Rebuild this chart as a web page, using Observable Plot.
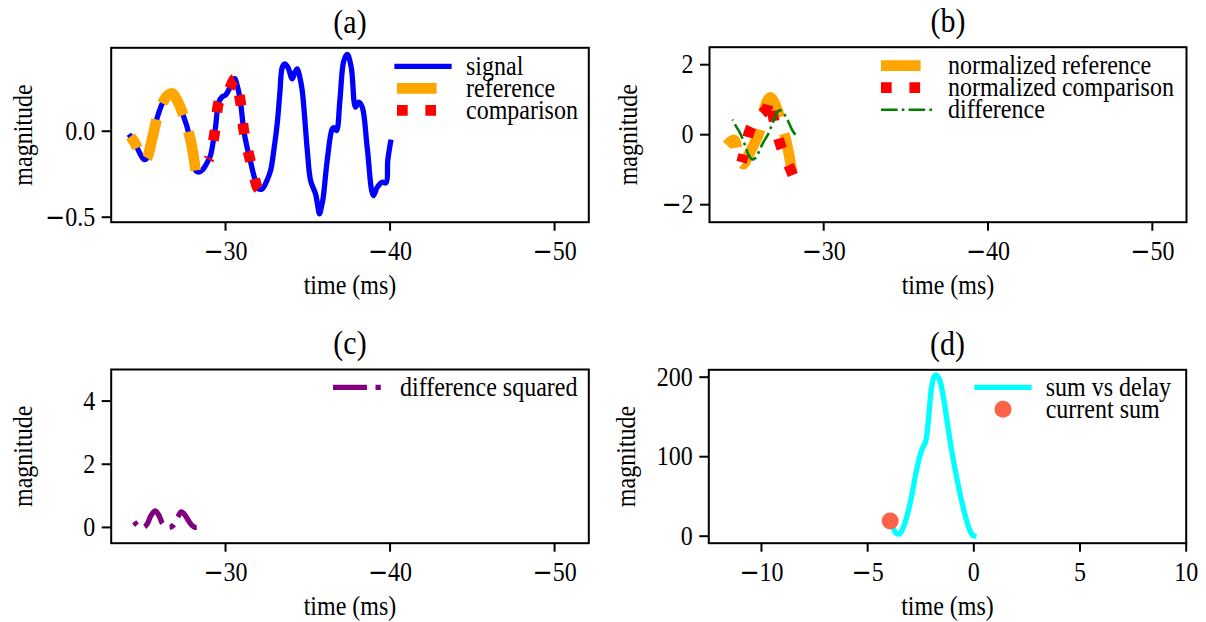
<!DOCTYPE html>
<html>
<head>
<meta charset="utf-8">
<script src="https://cdn.jsdelivr.net/npm/d3@7"></script>
<script src="https://cdn.jsdelivr.net/npm/@observablehq/plot@0.6"></script>
<style>
  html, body { margin: 0; padding: 0; background: #fff; }
  #fig { position: relative; width: 1206px; height: 622px; overflow: hidden; }
  #fig > svg { position: absolute; }
</style>
</head>
<body>
<div id="fig"></div>
<script>
// (a) recorded signal, time in ms
const signalTime = [-24.22, -24.5, -24.8, -25.05, -25.2, -25.5, -25.85, -26.2, -26.5, -26.76, -27.0, -27.37, -27.87, -28.18,
  -28.38, -28.6, -28.78, -28.97, -29.09, -29.25, -29.39, -29.59, -29.8, -30.0, -30.3, -30.55, -30.75, -30.91, -31.11, -31.3,
  -31.48, -31.7, -31.93, -32.0, -32.23, -32.5, -32.74, -32.95, -33.14, -33.3, -33.45, -33.6, -33.8, -34.05, -34.2, -34.36,
  -34.5, -34.66, -34.97, -35.17, -35.47, -35.6, -35.71, -35.85, -35.94, -36.18, -36.49, -36.6, -36.75, -36.95, -37.19, -37.4,
  -37.64, -37.9, -38.1, -38.31, -38.61, -38.98, -39.22, -39.52, -39.76, -39.86, -40.03];
const signalValue = [-0.03, -0.07, -0.13, -0.165, -0.16, -0.06, 0.08, 0.17, 0.21, 0.22, 0.19, 0.11, -0.05, -0.228,
  -0.238, -0.225, -0.2, -0.165, -0.14, -0.06, 0.023, 0.169, 0.2, 0.21, 0.26, 0.305, 0.25, 0.169, 0.004, -0.09,
  -0.16, -0.25, -0.326, -0.335, -0.335, -0.29, -0.228, -0.1, 0.043, 0.22, 0.372, 0.392, 0.37, 0.305, 0.34, 0.363,
  0.32, 0.237, -0.112, -0.287, -0.364, -0.43, -0.48, -0.43, -0.384, -0.17, 0.014, 0.02, 0.004, 0.178, 0.41, 0.446,
  0.372, 0.14, 0.169, 0.14, -0.093, -0.374, -0.326, -0.297, -0.3, -0.17, -0.064];
// windows cut from the signal
const referenceWindow = [-24.22, -28.18];
const comparisonWindow = [-28.97, -32.0];

// (b) normalized windows and their difference
const normRefTime = [-24.1, -24.55, -24.8, -25.1, -25.4, -25.75, -26.1, -26.35, -26.55, -26.76, -26.95, -27.25, -27.5, -27.7, -27.9, -28.08];
const normRefValue = [-0.3, -0.15, -0.55, -0.84, -0.6, -0.28, 0.1, 0.65, 0.95, 1.07, 0.95, 0.62, 0.2, -0.15, -0.6, -1.08];
const normCmpTime = [-25.0, -25.09, -25.54, -25.9, -26.52, -26.73, -26.94, -27.37, -28.04, -28.12];
const normCmpValue = [-0.79, -0.64, 0.17, 0.45, 0.74, 1.01, 0.49, -0.29, -1.06, -1.15];
const diffTime = [-24.45, -24.65, -24.85, -25.05, -25.25, -25.45, -25.65, -25.8, -25.95, -26.15, -26.35, -26.6, -26.85, -27.1, -27.3, -27.45, -27.65, -27.9, -28.1, -28.28];
const diffValue = [0.43, 0.25, 0.1, -0.1, -0.35, -0.6, -0.71, -0.68, -0.6, -0.38, -0.2, 0.0, 0.28, 0.57, 0.7, 0.67, 0.55, 0.32, 0.12, 0.0];

// (c) squared difference
const sqTime = [-24.45, -24.65, -24.85, -25.05, -25.25, -25.45, -25.65, -25.75, -25.95, -26.15, -26.35, -26.6, -26.85, -27.1, -27.3, -27.45, -27.65, -27.9, -28.1, -28.25];
const sqValue = [0.18, 0.06, 0.01, 0.01, 0.12, 0.36, 0.5, 0.52, 0.38, 0.14, 0.04, 0.0, 0.08, 0.33, 0.49, 0.45, 0.3, 0.1, 0.01, 0.0];

// (d) sum of squared differences against delay
const sumDelay = [-3.76, -3.65, -3.55, -3.45, -3.25, -2.97, -2.7, -2.46, -2.28, -2.2, -2.1, -2.0, -1.88, -1.79, -1.65, -1.5, -1.4, -1.24, -1.02, -0.78, -0.51, -0.3, -0.15, -0.05, 0.0];
const sumValue = [8, 3.5, 2.5, 4, 16, 45, 83, 108, 118, 130, 158, 185, 200, 203, 199, 185, 170, 141, 104, 70, 37, 16, 5, 1, 0.5];
const currentDelay = [-3.94];
const currentSum = [19.2];

// tick values
const timeTicks = [-30, -40, -50];
const delayTicks = [-10, -5, 0, 5, 10];
const ticksA = [-0.5, 0.0];
const ticksB = [-2, 0, 2];
const ticksC = [0, 2, 4];
const ticksD = [0, 100, 200];

const pts = (ts, vs) => ts.map((t, i) => ({t, v: vs[i]}));
const signal = pts(signalTime, signalValue);
const inWindow = ([a, b]) => d => d.t <= a && d.t >= b;
// dashed series are stroked starting from the late end
const reference = signal.filter(inWindow(referenceWindow)).reverse();
const comparison = signal.filter(inWindow(comparisonWindow)).reverse();
const normRef = pts(normRefTime, normRefValue).reverse();
const normCmp = pts(normCmpTime, normCmpValue).reverse();
const diff = pts(diffTime, diffValue).reverse();
const sq = pts(sqTime, sqValue).reverse();
const sums = pts(sumDelay, sumValue);
const current = pts(currentDelay, currentSum);

const C = {
  blue: "#0000ff", orange: "#ffa500", red: "#ff0000", green: "#008000",
  purple: "#800080", cyan: "#00ffff", tomato: "#ff6347"
};
const DASH = { ref: "39.6,17.1", cmp: "10.7,17.7", diff: "16.6,4.2,2.6,4.2", sq: "34,8.5,5.3,8.5" };

const FONT = "'Liberation Serif', 'Times New Roman', Times, serif";
const SY = 1.12;          // glyphs are drawn a little taller than wide
const BASE = 24 * SY;     // body text size
const TITLE = 30 * SY;    // panel title size

// legend drawn in the upper-right corner of the frame
function legend(items, {x0, len, textX, rows}) {
  return (index, scales, values, dims) => {
    const g = d3.create("svg:g");
    const fr = dims.width - dims.marginRight, ft = dims.marginTop;
    items.forEach((it, i) => {
      const y = ft + rows[i];
      if (it.dot) {
        g.append("circle").attr("cx", fr + x0 + len / 2).attr("cy", y).attr("r", it.r).attr("fill", it.color);
      } else {
        g.append("line")
          .attr("x1", fr + x0).attr("x2", fr + x0 + len).attr("y1", y).attr("y2", y)
          .attr("stroke", it.color).attr("stroke-width", it.width)
          .attr("stroke-dasharray", it.dash || null).attr("stroke-linecap", it.dash ? "butt" : "square");
      }
      g.append("text").attr("x", fr + textX).attr("y", y).attr("dy", "0.32em")
        .attr("text-anchor", "start").attr("fill", "black").text(it.label);
    });
    return g.node();
  };
}

// tick labels use a wide minus sign, and every label is squeezed back to its width
function finishText(svg) {
  svg.querySelectorAll("text").forEach(el => {
    const s = el.textContent;
    if (s.startsWith("\u2212") && el.children.length === 0) {
      el.textContent = "";
      const m = document.createElementNS("http://www.w3.org/2000/svg", "tspan");
      m.setAttribute("font-family", "'DejaVu Sans'");
      m.textContent = "\u2212";
      const r = document.createElementNS("http://www.w3.org/2000/svg", "tspan");
      r.textContent = s.slice(1);
      el.appendChild(m); el.appendChild(r);
    }
    const w = el.getComputedTextLength();
    if (w > 0) {
      el.setAttribute("textLength", (w / SY).toFixed(2));
      el.setAttribute("lengthAdjust", "spacingAndGlyphs");
    }
  });
}

function panel({left, top, width, height, margins, xDomain, yDomain, xTicks, yTicks, yFormat, title, ylabelX, marks}) {
  const [mt, mr, mb, ml] = margins;
  const svg = Plot.plot({
    width, height,
    marginTop: mt, marginRight: mr, marginBottom: mb, marginLeft: ml,
    style: {fontFamily: FONT, fontSize: BASE + "px", color: "black", background: "transparent", overflow: "visible"},
    x: {domain: xDomain},
    y: {domain: yDomain},
    marks: [
      ...marks,
      Plot.axisX({ticks: xTicks, tickFormat: d3.format("d"), tickSize: 9, tickPadding: 10, strokeWidth: 2, label: null}),
      Plot.axisY({ticks: yTicks, tickFormat: yFormat, tickSize: 9, tickPadding: 7, strokeWidth: 2, label: null}),
      Plot.frame({stroke: "black", strokeWidth: 2}),
      Plot.text([title], {text: d => d, frameAnchor: "top", dy: -26, lineAnchor: "middle", textAnchor: "middle", fontSize: TITLE}),
      Plot.text(["time (ms)"], {text: d => d, frameAnchor: "bottom", dy: 63, lineAnchor: "middle", textAnchor: "middle"}),
      Plot.text(["magnitude"], {text: d => d, frameAnchor: "left", dx: ylabelX - ml, rotate: -90, lineAnchor: "middle", textAnchor: "middle"})
    ]
  });
  svg.style.left = left + "px";
  svg.style.top = top + "px";
  document.getElementById("fig").appendChild(svg);
  finishText(svg);
}

const timeDomain = [-23.05, -52.08];
const legendRows = [19, 41, 63];

panel({
  left: 0, top: 0, width: 603, height: 311, margins: [47.3, 14.7, 89.3, 110.7],
  xDomain: timeDomain, yDomain: [-0.529, 0.485], xTicks: timeTicks, yTicks: ticksA, yFormat: d3.format(".1f"),
  title: "(a)", ylabelX: 23,
  marks: [
    Plot.line(signal, {x: "t", y: "v", stroke: C.blue, strokeWidth: 5.3, strokeLinecap: "square", curve: "catmull-rom"}),
    Plot.line(reference, {x: "t", y: "v", stroke: C.orange, strokeWidth: 10.7, strokeDasharray: DASH.ref, strokeLinecap: "butt", curve: "catmull-rom"}),
    Plot.line(comparison, {x: "t", y: "v", stroke: C.red, strokeWidth: 10.7, strokeDasharray: DASH.cmp, strokeLinecap: "butt", curve: "catmull-rom"}),
    legend([
      {label: "signal", color: C.blue, width: 5.3},
      {label: "reference", color: C.orange, width: 10.7, dash: DASH.ref},
      {label: "comparison", color: C.red, width: 10.7, dash: DASH.cmp}
    ], {x0: -191.3, len: 52, textX: -122.3, rows: legendRows})
  ]
});

panel({
  left: 603, top: 0, width: 603, height: 311, margins: [46.7, 20, 89.3, 106],
  xDomain: timeDomain, yDomain: [-2.5, 2.5], xTicks: timeTicks, yTicks: ticksB, yFormat: d3.format("d"),
  title: "(b)", ylabelX: 25,
  marks: [
    Plot.line(normRef, {x: "t", y: "v", stroke: C.orange, strokeWidth: 10.7, strokeDasharray: DASH.ref, strokeLinecap: "butt", curve: "catmull-rom"}),
    Plot.line(normCmp, {x: "t", y: "v", stroke: C.red, strokeWidth: 10.7, strokeDasharray: DASH.cmp, strokeLinecap: "butt", curve: "catmull-rom"}),
    Plot.line(diff, {x: "t", y: "v", stroke: C.green, strokeWidth: 2.6, strokeDasharray: DASH.diff, strokeLinecap: "butt", curve: "catmull-rom"}),
    legend([
      {label: "normalized reference", color: C.orange, width: 10.7, dash: DASH.ref},
      {label: "normalized comparison", color: C.red, width: 10.7, dash: DASH.cmp},
      {label: "difference", color: C.green, width: 2.6, dash: DASH.diff}
    ], {x0: -305, len: 52, textX: -238, rows: legendRows})
  ]
});

panel({
  left: 0, top: 311, width: 603, height: 311, margins: [58, 14.7, 79.3, 110.7],
  xDomain: timeDomain, yDomain: [-0.5, 5], xTicks: timeTicks, yTicks: ticksC, yFormat: d3.format("d"),
  title: "(c)", ylabelX: 23,
  marks: [
    Plot.line(sq, {x: "t", y: "v", stroke: C.purple, strokeWidth: 5.3, strokeDasharray: DASH.sq, strokeDashoffset: 5, strokeLinecap: "butt", curve: "catmull-rom"}),
    legend([
      {label: "difference squared", color: C.purple, width: 5.3, dash: DASH.sq}
    ], {x0: -255.3, len: 52, textX: -188.3, rows: [18.3]})
  ]
});

panel({
  left: 603, top: 311, width: 603, height: 311, margins: [58.3, 20.3, 79.3, 105.3],
  xDomain: [-12.48, 10], yDomain: [-8.8, 209.3], xTicks: delayTicks, yTicks: ticksD, yFormat: d3.format("d"),
  title: "(d)", ylabelX: 23,
  marks: [
    Plot.line(sums, {x: "t", y: "v", stroke: C.cyan, strokeWidth: 5.3, strokeLinecap: "square", curve: "catmull-rom"}),
    Plot.dot(current, {x: "t", y: "v", r: 8.5, fill: C.tomato}),
    legend([
      {label: "sum vs delay", color: C.cyan, width: 5.3},
      {label: "current sum", color: C.tomato, dot: true, r: 8.5}
    ], {x0: -208.7, len: 52, textX: -140, rows: [18, 40]})
  ]
});
</script>
</body>
</html>
